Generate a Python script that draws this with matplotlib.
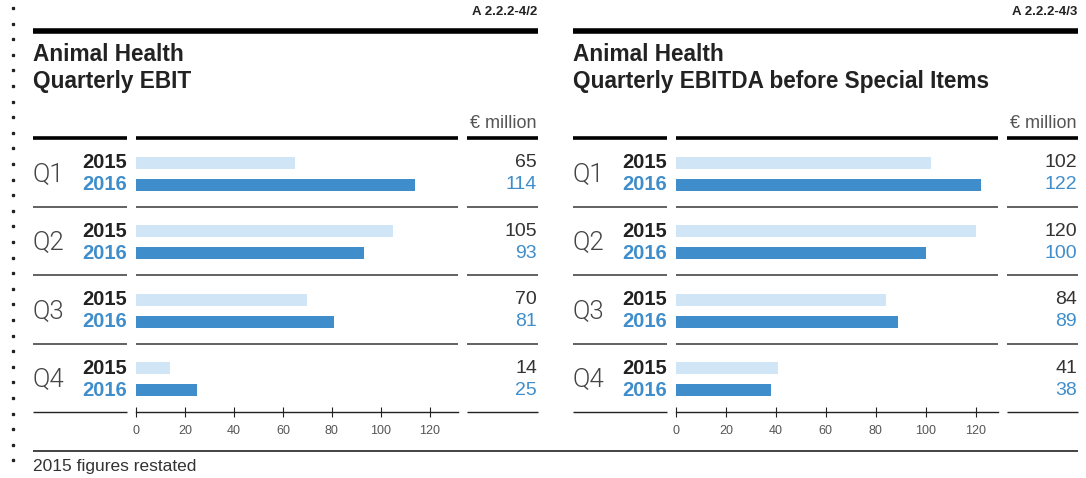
import numpy as np
import matplotlib.pyplot as plt
from matplotlib.lines import Line2D
from matplotlib.transforms import blended_transform_factory

W, H = 1086, 478

quarters = ["Q1", "Q2", "Q3", "Q4"]
years = ["2015", "2016"]

ebit_2015 = [65, 105, 70, 14]
ebit_2016 = [114, 93, 81, 25]

ebitda_2015 = [102, 120, 84, 41]
ebitda_2016 = [122, 100, 89, 38]

panels = [
    {"code": "A 2.2.2-4/2", "title": "Animal Health\nQuarterly EBIT",
     "v15": ebit_2015, "v16": ebit_2016, "xmax": 131.5},
    {"code": "A 2.2.2-4/3", "title": "Animal Health\nQuarterly EBITDA before Special Items",
     "v15": ebitda_2015, "v16": ebitda_2016, "xmax": 129.0},
]

LIGHT = "#d0e6f7"
BLUE = "#3f8ecb"
DARK = "#222222"
GREY = "#555555"

plt.rcParams["font.family"] = ["Liberation Sans", "DejaVu Sans"]

fig = plt.figure(figsize=(W / 100, H / 100), dpi=100)


def fx(x):
    return x / W


def fy(y):
    return 1 - y / H


def hline(x0, x1, y, lw, color, trans=None):
    if trans is None:
        fig.add_artist(Line2D([fx(x0), fx(x1)], [fy(y), fy(y)], lw=lw, color=color,
                              solid_capstyle="butt"))
    else:
        fig.add_artist(Line2D([fx(x0), fx(x1)], [y, y], lw=lw, color=color,
                              transform=trans, solid_capstyle="butt", clip_on=False))


# dotted margin on the left
for yy in np.arange(8, 472, 15.6):
    fig.add_artist(Line2D([fx(13)], [fy(yy)], marker="s", ms=1.4, color=DARK, lw=0))

off_y15 = 0.362
off_y16 = 0.681
bar_h = 0.175

for p, panel in enumerate(panels):
    dx = 540 * p
    left = 33 + dx
    right = 538 + dx

    # header: code, thick rule, title
    fig.text(fx(right - 1), fy(12), panel["code"], ha="right", va="center",
             fontsize=9.5, fontweight="bold", color=DARK)
    hline(left, right, 30.5, 4.0, "black")
    fig.text(fx(left), fy(43), panel["title"], ha="left", va="top",
             fontsize=16.3, fontweight="bold", color=DARK, linespacing=1.2)
    fig.text(fx(right - 1), fy(124), "€ million", ha="right", va="center",
             fontsize=13, color=GREY)

    # bar area
    x0, x1 = 136 + dx, 458 + dx
    ax = fig.add_axes([fx(x0), fy(412), fx(x1) - fx(x0), fy(138) - fy(412)])
    n = len(quarters)
    idx = np.arange(n)
    ax.barh(idx + off_y15, panel["v15"], height=bar_h, color=LIGHT)
    ax.barh(idx + off_y16, panel["v16"], height=bar_h, color=BLUE)
    ax.set_xlim(0, panel["xmax"])
    ax.set_ylim(n, 0)
    for s in ["top", "left", "right"]:
        ax.spines[s].set_visible(False)
    ax.spines["bottom"].set_color(DARK)
    ax.spines["bottom"].set_linewidth(1.0)
    ax.set_yticks([])
    ax.set_xticks(np.arange(0, 121, 20))
    ax.tick_params(axis="x", direction="inout", length=7, width=0.8, color=DARK,
                   labelsize=9, labelcolor=GREY, pad=6)
    ax.patch.set_alpha(0)

    tr = blended_transform_factory(fig.transFigure, ax.transData)

    # header rules above rows
    for a, b in [(left, 127 + dx), (x0, x1), (467 + dx, right)]:
        hline(a, b, 0, 2.6, "black", tr)
    # separators between quarters and bottom rules beside the axis
    for i in range(1, n):
        for a, b in [(left, 127 + dx), (x0, x1), (467 + dx, right)]:
            hline(a, b, i, 1.3, GREY, tr)
    for a, b in [(left, 127 + dx), (467 + dx, right)]:
        hline(a, b, n, 1.0, DARK, tr)

    for i, q in enumerate(quarters):
        ax.text(fx(left - 1), i + 0.52, q, transform=tr,
                ha="left", va="center", fontsize=18.5, color="#444444",
                family=["Roboto", "DejaVu Sans"], fontweight=300)
        ax.text(fx(127 + dx), i + off_y15, years[0], transform=tr, ha="right",
                va="center", fontsize=14.5, fontweight="bold", color=DARK)
        ax.text(fx(127 + dx), i + off_y16, years[1], transform=tr, ha="right",
                va="center", fontsize=14.5, fontweight="bold", color=BLUE)
        ax.text(fx(right - 1), i + off_y15, str(panel["v15"][i]), transform=tr,
                ha="right", va="center", fontsize=14, color="#333333")
        ax.text(fx(right - 1), i + off_y16, str(panel["v16"][i]), transform=tr,
                ha="right", va="center", fontsize=14, color=BLUE)

# footer
hline(33, 1078, 451, 1.2, DARK)
fig.text(fx(33), fy(466), "2015 figures restated", ha="left", va="center",
         fontsize=12.5, color="#333333")

fig.savefig("out.png", dpi=100)
